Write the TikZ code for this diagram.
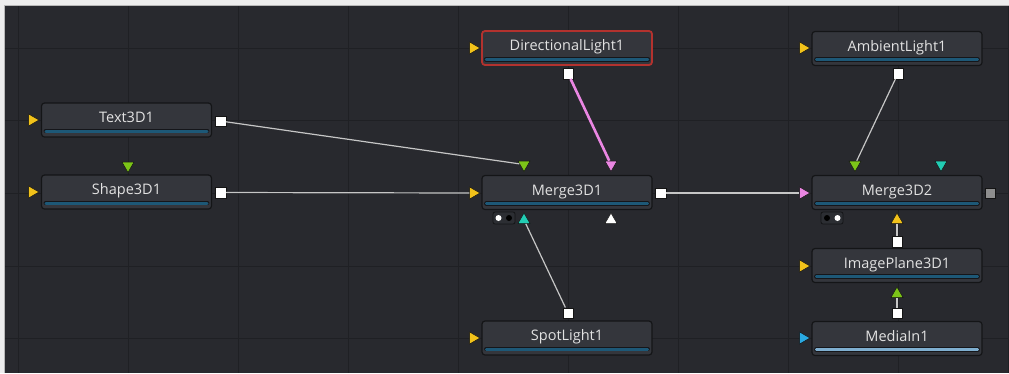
\documentclass[tikz,border=0pt]{standalone}
\usepackage{fontspec}
\setmainfont{Open Sans}
\usetikzlibrary{shapes.geometric}
\definecolor{outerbg}{HTML}{EDEDED}
\definecolor{framegray}{HTML}{B8B8B8}
\definecolor{bg}{HTML}{28292E}
\definecolor{gridc}{HTML}{1F2024}
\definecolor{nodefill}{HTML}{34363C}
\definecolor{nodeedge}{HTML}{141517}
\definecolor{nodetext}{HTML}{E2E2E2}
\definecolor{barblue}{HTML}{1D5877}
\definecolor{barlight}{HTML}{7FAFD0}
\definecolor{baredge}{HTML}{15161A}
\definecolor{portedge}{HTML}{141414}
\definecolor{pyellow}{HTML}{F2C21A}
\definecolor{pgreen}{HTML}{7CC418}
\definecolor{pcyan}{HTML}{22CDB4}
\definecolor{ppink}{HTML}{EA86E2}
\definecolor{pblue}{HTML}{2AA9E2}
\definecolor{pgray}{HTML}{8E8E8E}
\definecolor{wire}{HTML}{C6C6C6}
\definecolor{selred}{HTML}{B3322E}
\definecolor{dotbox}{HTML}{2C2E33}
\begin{document}
\begin{tikzpicture}[x=1pt,y=-1pt,
  fnode/.style={rectangle, rounded corners=3pt, draw=nodeedge, line width=1.2pt,
    fill=nodefill, minimum width=170pt, minimum height=34pt, inner sep=0pt,
    text height=9pt, text depth=4pt, font=\fontsize{14.5}{16}\selectfont, text=nodetext},
  inport/.style={regular polygon, regular polygon sides=3, shape border rotate=-90,
    minimum size=14pt, inner sep=0pt, draw=portedge, line width=0.5pt, fill=#1},
  downport/.style={regular polygon, regular polygon sides=3, shape border rotate=180,
    minimum size=14pt, inner sep=0pt, draw=portedge, line width=0.5pt, fill=#1},
  upport/.style={regular polygon, regular polygon sides=3, shape border rotate=0,
    minimum size=14pt, inner sep=0pt, draw=portedge, line width=0.5pt, fill=#1},
  outport/.style={rectangle, minimum size=10.5pt, inner sep=0pt, draw=portedge,
    line width=0.5pt, fill=#1},
  outport/.default=white,
  wireline/.style={draw=wire, line width=1.2pt},
  pinkwire/.style={draw=ppink, line width=2.6pt},
  dotbx/.style={rectangle, rounded corners=2pt, minimum width=22pt, minimum height=12pt,
    inner sep=0pt, fill=dotbox, draw=nodeedge, line width=0.8pt},
  dot/.style={circle, minimum size=6pt, inner sep=0pt, fill=#1}
]
\useasboundingbox (0,0) rectangle (1009,373);
\fill[outerbg] (0,0) rectangle (1009,373);
\fill[framegray] (3.5,4.5) rectangle (1009,373);
\fill[bg] (5,6) rectangle (1009,373);
\foreach \x in {18,128,...,1008} \draw[gridc, line width=1pt] (\x,6) -- (\x,373);
\foreach \y in {48,120,193,266,338} \draw[gridc, line width=1pt] (5,\y) -- (1009,\y);

% nodes
\node[fnode, draw=selred, line width=1.8pt] (dl) at (567,48) {DirectionalLight1};
\node[fnode] (al) at (897,48.5) {AmbientLight1};
\node[fnode] (t3) at (126.5,120) {Text3D1};
\node[fnode] (s3) at (126.5,192) {Shape3D1};
\node[fnode] (m1) at (567,192.5) {Merge3D1};
\node[fnode] (m2) at (897,192.5) {Merge3D2};
\node[fnode] (ip) at (897,265.5) {ImagePlane3D1};
\node[fnode] (sl) at (567,338) {SpotLight1};
\node[fnode] (mi) at (897,338.5) {MediaIn1};

% bars
\foreach \n in {dl,al,t3,s3,m1,m2,ip,sl} {
  \draw[baredge, line width=4.6pt, line cap=round] ([xshift=5pt,yshift=6.5pt]\n.south west) -- ([xshift=-5pt,yshift=6.5pt]\n.south east);
  \draw[barblue, line width=2.8pt, line cap=round] ([xshift=5pt,yshift=6.5pt]\n.south west) -- ([xshift=-5pt,yshift=6.5pt]\n.south east);
}
\draw[baredge, line width=4.6pt, line cap=round] ([xshift=5pt,yshift=6.5pt]mi.south west) -- ([xshift=-5pt,yshift=6.5pt]mi.south east);
\draw[barlight, line width=2.8pt, line cap=round] ([xshift=5pt,yshift=6.5pt]mi.south west) -- ([xshift=-5pt,yshift=6.5pt]mi.south east);

% input ports
\node[inport=pyellow] (t3in) at (32,120) {};
\node[inport=pyellow] (s3in) at (32,192) {};
\node[inport=pyellow] (dlin) at (473,48) {};
\node[inport=pyellow] (m1in) at (473,193) {};
\node[inport=pyellow] (slin) at (473,338) {};
\node[inport=pyellow] (alin) at (803,48) {};
\node[inport=ppink] (m2in) at (803,193) {};
\node[inport=pyellow] (ipin) at (803,266) {};
\node[inport=pblue] (miin) at (803,338) {};

% top (down-pointing) ports
\node[downport=pgreen] (s3g) at (128,165.5) {};
\node[downport=pgreen] (m1g) at (524,164.5) {};
\node[downport=ppink] (m1p) at (611,164.5) {};
\node[downport=pgreen] (m2g) at (855,164.5) {};
\node[downport=pcyan] (m2c) at (941,164.5) {};

% bottom (up-pointing) ports
\node[upport=pcyan] (m1c) at (524,220) {};
\node[upport=white] (m1w) at (611,220) {};
\node[upport=pyellow] (m2y) at (897,220) {};
\node[upport=pgreen] (ipg) at (897,294) {};

% output ports
\node[outport] (t3out) at (220.5,121) {};
\node[outport] (s3out) at (220.5,192.5) {};
\node[outport] (dlout) at (568,73.5) {};
\node[outport] (m1out) at (660.5,193) {};
\node[outport] (slout) at (568,313) {};
\node[outport] (alout) at (898,73.5) {};
\node[outport=pgray] (m2out) at (990,193) {};
\node[outport] (ipout) at (897,241.5) {};
\node[outport] (miout) at (897,313) {};

% mask boxes
\node[dotbx] (m1mask) at (504,218) {};
\node[dot=white] (m1d1) at (498.5,218) {};
\node[dot=black] (m1d2) at (509,218) {};
\node[dotbx] (m2mask) at (832,218) {};
\node[dot=black] (m2d1) at (827,218) {};
\node[dot=white] (m2d2) at (837.5,218) {};

% connectors
\draw[wireline] (t3out) -- (m1g);
\draw[wireline] (s3out) -- (m1in);
\draw[pinkwire] (dlout) -- (m1p);
\draw[wireline] (slout) -- (m1c);
\draw[wireline] (m1out) -- (m2in);
\draw[wireline] (alout) -- (m2g);
\draw[wireline] (ipout) -- (m2y);
\draw[wireline] (miout) -- (ipg);
\end{tikzpicture}
\end{document}
